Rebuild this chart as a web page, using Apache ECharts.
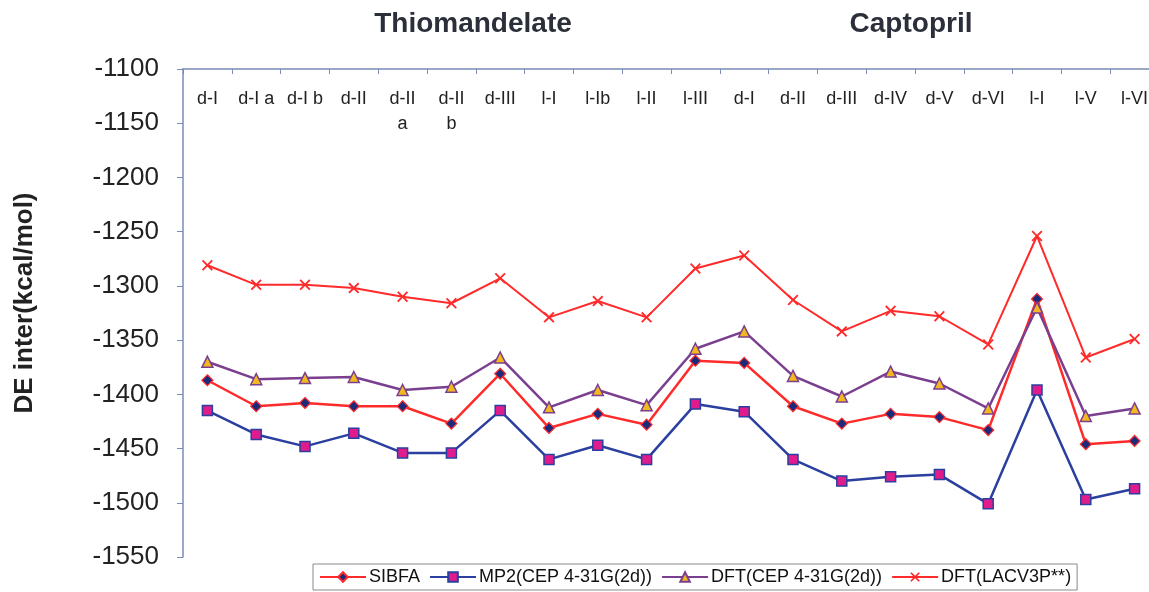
<!DOCTYPE html>
<html>
<head>
<meta charset="utf-8">
<script src="https://cdn.jsdelivr.net/npm/echarts@6/dist/echarts.min.js"></script>
<style>
html,body{margin:0;padding:0;background:#fff;overflow:hidden;}
#c{width:1159px;height:592px;}
</style>
</head>
<body>
<div id="c"></div>
<script>
var categories = ['d-I','d-I a','d-I b','d-II','d-II\na','d-II\nb','d-III','l-I','l-Ib','l-II','l-III','d-I','d-II','d-III','d-IV','d-V','d-VI','l-I','l-V','l-VI'];
var sibfa  = [-1387,-1411,-1408,-1411,-1411,-1427,-1381,-1431,-1418,-1428,-1369,-1371,-1411,-1427,-1418,-1421,-1433,-1312,-1446,-1443];
var mp2    = [-1415,-1437,-1448,-1436,-1454,-1454,-1415,-1460,-1447,-1460,-1409,-1416,-1460,-1480,-1476,-1474,-1501,-1396,-1497,-1487];
var dftCep = [-1370,-1386,-1385,-1384,-1396,-1393,-1366,-1412,-1396,-1410,-1358,-1342,-1383,-1402,-1379,-1390,-1413,-1320,-1420,-1413];
var dftLac = [-1281,-1299,-1299,-1302,-1310,-1316,-1293,-1329,-1314,-1329,-1284,-1272,-1313,-1342,-1323,-1328,-1354,-1254,-1366,-1349];
var seriesNames = ['SIBFA','MP2(CEP 4-31G(2d))','DFT(CEP 4-31G(2d))','DFT(LACV3P**)'];
var groupTitles = ['Thiomandelate','Captopril'];
var yTitle = 'DE inter(kcal/mol)';

var font = 'Liberation Sans, Arial, sans-serif';
var chart = echarts.init(document.getElementById('c'), null, {renderer:'canvas'});
var xMark = 'path://M0,1.2 L1.2,0 L5,3.8 L8.8,0 L10,1.2 L6.2,5 L10,8.8 L8.8,10 L5,6.2 L1.2,10 L0,8.8 L3.8,5 Z';

chart.setOption({
  animation:false,
  textStyle:{fontFamily:font},
  graphic:[
    {type:'text', x:473, y:24, style:{text:groupTitles[0], fontFamily:font, fontSize:28, fontWeight:'bold', fill:'#2a2f3a', textAlign:'center', textVerticalAlign:'middle'}},
    {type:'text', x:911, y:24, style:{text:groupTitles[1], fontFamily:font, fontSize:28, fontWeight:'bold', fill:'#2a2f3a', textAlign:'center', textVerticalAlign:'middle'}},
    {type:'text', x:25, y:303, rotation:Math.PI/2, style:{text:yTitle, fontFamily:font, fontSize:26, fontWeight:'bold', fill:'#222', textAlign:'center', textVerticalAlign:'middle'}}
  ],
  legend:{
    left:313, top:564,
    padding:[4,6,4,6],
    itemGap:9,
    itemWidth:46, itemHeight:12,
    borderColor:'#8a8a8a', borderWidth:1,
    textStyle:{fontFamily:font, fontSize:18, color:'#111', padding:[0,0,0,-2]},
    data:seriesNames
  },
  grid:{left:183, right:0, top:69, bottom:35, containLabel:false},
  xAxis:{
    type:'category',
    position:'top',
    data:categories,
    boundaryGap:true,
    axisLine:{show:true, lineStyle:{color:'#7a8bb5', width:1.5}},
    axisTick:{show:true, inside:true, length:5, alignWithLabel:false, lineStyle:{color:'#7a8bb5'}},
    axisLabel:{inside:true, margin:18, fontSize:18, color:'#222', lineHeight:25, fontFamily:font, interval:0, verticalAlign:'top'},
    splitLine:{show:false}
  },
  yAxis:{
    type:'value',
    min:-1550, max:-1100, interval:50,
    axisLine:{show:true, lineStyle:{color:'#7a8bb5', width:1.5}},
    axisTick:{show:true, inside:false, length:6, lineStyle:{color:'#7a8bb5'}},
    axisLabel:{fontSize:26, color:'#222', margin:24, fontFamily:font, formatter:function(v){return String(v);}},
    splitLine:{show:false}
  },
  series:[
    {name:seriesNames[0], type:'line', data:sibfa, symbol:'diamond', symbolSize:11,
     lineStyle:{color:'#ff2a2a', width:2.5}, itemStyle:{color:'#1c2a7c', borderColor:'#ff2a2a', borderWidth:1.2}},
    {name:seriesNames[1], type:'line', data:mp2, symbol:'rect', symbolSize:10,
     lineStyle:{color:'#2a3f9f', width:2.5}, itemStyle:{color:'#e01c8c', borderColor:'#2a3f9f', borderWidth:1.5}},
    {name:seriesNames[2], type:'line', data:dftCep, symbol:'triangle', symbolSize:11,
     lineStyle:{color:'#7b3f8f', width:2.5}, itemStyle:{color:'#f2b820', borderColor:'#7b3f8f', borderWidth:1.5}},
    {name:seriesNames[3], type:'line', data:dftLac, symbol:xMark, symbolSize:11,
     lineStyle:{color:'#ff2a2a', width:2}, itemStyle:{color:'#ff2a2a', borderColor:'#ff2a2a', borderWidth:0}}
  ]
});
</script>
</body>
</html>
